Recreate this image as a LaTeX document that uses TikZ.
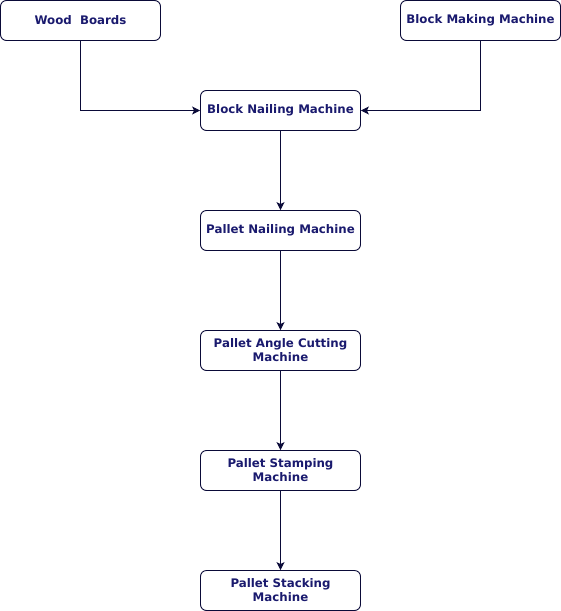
\documentclass[tikz,border=0pt]{standalone}
\usepackage{fontspec}
\setmainfont{DejaVu Sans}
\usetikzlibrary{arrows.meta}
\definecolor{boxtext}{HTML}{1A1A6E}
\definecolor{boxline}{HTML}{0A0A38}
\tikzset{
  machine/.style={draw=boxline,line width=0.9pt,rounded corners=6pt,minimum width=160pt,minimum height=40pt,
    inner sep=2pt,align=center,text=boxtext,font=\bfseries\fontsize{11.8}{14}\selectfont},
  flow/.style={draw=boxline,line width=0.9pt,-{Stealth[length=8pt,width=8pt,inset=2pt]}}
}
\begin{document}
\begin{tikzpicture}[x=1pt,y=1pt,node distance=120pt]
\useasboundingbox (0,0) rectangle (561,-611);
\node[machine] (wood) at (80.5,-20.5) {Wood\ \ Boards};
\node[machine] (block) at (480.5,-20.5) {Block Making Machine};
\node[machine] (bnail) at (280.5,-110.5) {Block Nailing Machine};
\node[machine,below of=bnail] (pnail) {Pallet Nailing Machine};
\node[machine,below of=pnail] (angle) {Pallet Angle Cutting\\Machine};
\node[machine,below of=angle] (stamp) {Pallet Stamping\\Machine};
\node[machine,below of=stamp] (stack) {Pallet Stacking\\Machine};
\draw[flow] (wood) |- (bnail);
\draw[flow] (block) |- (bnail);
\draw[flow] (bnail) -- (pnail);
\draw[flow] (pnail) -- (angle);
\draw[flow] (angle) -- (stamp);
\draw[flow] (stamp) -- (stack);
\end{tikzpicture}
\end{document}
